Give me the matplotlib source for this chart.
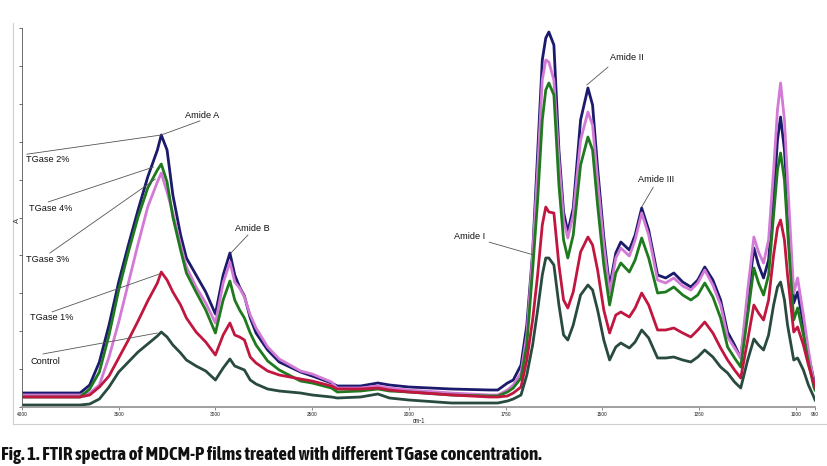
import numpy as np
import matplotlib
matplotlib.use("Agg")
import matplotlib.pyplot as plt
from matplotlib import font_manager
from matplotlib.lines import Line2D

# wavenumber grid (cm-1) and absorbance (x1000)
wn = [4000, 3700, 3650, 3600, 3550, 3500, 3450, 3400, 3350, 3300,
      3280, 3250, 3220, 3180, 3150, 3100, 3050, 3000, 2960, 2925,
      2900, 2875, 2850, 2820, 2790, 2730, 2670, 2560, 2500, 2400,
      2370, 2250, 2160, 2100, 2000, 1890, 1790, 1770, 1745, 1730,
      1710, 1695, 1680, 1667, 1655, 1646, 1638, 1625, 1612, 1600,
      1589, 1575, 1556, 1537, 1525, 1512, 1496, 1481, 1465, 1452,
      1430, 1415, 1398, 1380, 1357, 1336, 1315, 1292, 1271, 1253,
      1235, 1214, 1194, 1176, 1158, 1142, 1124, 1108, 1096, 1083,
      1070, 1057, 1047, 1039, 1029, 1021, 1005, 995, 980, 967,
      953, 950]

tg2 = [14, 14, 22, 45, 82, 125, 162, 197, 230, 257,
       272, 257, 212, 172, 149, 132, 115, 93, 132, 154,
       132, 120, 111, 89, 74, 57, 45, 35, 31, 24,
       21, 21, 24, 22, 20, 18, 17, 17, 24, 27,
       42, 82, 154, 254, 347, 369, 375, 362, 257, 195,
       175, 199, 287, 319, 302, 239, 170, 120, 154, 165,
       157, 172, 199, 177, 132, 129, 134, 125, 120, 127,
       140, 127, 107, 75, 62, 49, 107, 159, 142, 129,
       147, 207, 267, 290, 257, 207, 104, 115, 82, 52,
       27, 22]

tg3 = [12, 12, 14, 22, 50, 85, 124, 163, 200, 225,
       234, 215, 194, 162, 140, 120, 104, 84, 124, 145,
       125, 119, 110, 92, 79, 60, 48, 36, 33, 25,
       19, 19, 21, 19, 17, 14, 12, 12, 17, 22,
       34, 72, 152, 237, 327, 347, 345, 327, 247, 187,
       169, 192, 267, 295, 282, 227, 162, 114, 149, 159,
       151, 167, 194, 172, 127, 124, 129, 121, 117, 124,
       137, 122, 102, 70, 59, 49, 117, 170, 155, 144,
       167, 237, 297, 324, 287, 227, 114, 129, 92, 57,
       24, 19]

tg4 = [10, 10, 18, 35, 72, 117, 155, 190, 219, 237,
       243, 225, 190, 157, 134, 115, 97, 74, 107, 126,
       107, 97, 89, 74, 62, 46, 37, 26, 24, 19,
       15, 16, 18, 16, 15, 12, 11, 11, 15, 19,
       29, 62, 137, 207, 287, 317, 324, 312, 222, 167,
       149, 172, 242, 270, 257, 202, 142, 102, 134, 144,
       135, 147, 169, 149, 114, 115, 120, 112, 107, 112,
       124, 110, 89, 60, 49, 40, 92, 139, 124, 112,
       132, 192, 237, 254, 227, 177, 87, 99, 72, 45,
       20, 17]

tg1 = [10, 10, 12, 20, 31, 49, 67, 86, 106, 124,
       135, 127, 115, 102, 89, 75, 65, 52, 72, 84,
       72, 70, 67, 50, 44, 36, 32, 28, 26, 21,
       18, 18, 19, 17, 15, 12, 10, 10, 11, 14,
       20, 47, 87, 132, 182, 200, 195, 194, 142, 107,
       99, 115, 155, 170, 162, 137, 97, 74, 92, 95,
       90, 99, 114, 102, 77, 77, 79, 74, 70, 77,
       85, 74, 59, 47, 37, 29, 67, 102, 94, 87,
       107, 152, 179, 187, 167, 132, 75, 80, 62, 42,
       24, 20]

control = [2, 2, 3, 8, 20, 35, 45, 55, 63, 71,
           75, 70, 62, 54, 47, 41, 36, 27, 39, 48,
           41, 39, 37, 27, 23, 18, 16, 14, 12, 10,
           9, 10, 13, 9, 7, 4, 4, 4, 6, 8,
           12, 32, 62, 97, 132, 149, 149, 142, 102, 72,
           67, 82, 112, 122, 117, 97, 67, 47, 60, 64,
           59, 65, 77, 69, 49, 49, 50, 47, 45, 50,
           57, 50, 40, 34, 25, 19, 47, 68, 62, 57,
           72, 102, 120, 125, 107, 82, 47, 49, 37, 22,
           10, 7]

xticks = [4000, 3500, 3000, 2500, 2000, 1750, 1500, 1250, 1000, 950]

# fonts: look for a narrow / condensed family (upright) for caption and ticks
sans = ["Liberation Sans", "DejaVu Sans"]


def wt(f):
    w = f.weight
    return w if isinstance(w, int) else font_manager.weight_dict.get(w, 400)


cond = [f for f in font_manager.fontManager.ttflist
        if ("Narrow" in f.name or "Condensed" in f.name or f.stretch == "condensed")
        and f.style == "normal" and "Light" not in f.name and "Thin" not in f.name]
bold_cond = sorted({f.name for f in cond if wt(f) >= 600})
reg_cond = sorted({f.name for f in cond if wt(f) < 600})
narrow_bold = bold_cond[:1] + sans
narrow = (reg_cond[:1] or bold_cond[:1]) + sans


# FTIR style axis: half scale above 2000 cm-1
def fwd(x):
    x = np.asarray(x, float)
    return np.where(x >= 2000, x / 2 + 1000, x)


def inv(y):
    y = np.asarray(y, float)
    return np.where(y >= 2000, (y - 1000) * 2, y)


fig = plt.figure(figsize=(8.27, 4.66), dpi=100)
ax = fig.add_axes([22 / 827, 59 / 466, 793 / 827, 379 / 466])
ax.set_xscale("function", functions=(fwd, inv))

x = np.array(wn)
series = [
    (tg2, "#1b1a6c"),
    (tg3, "#d27ad6"),
    (tg4, "#1f7a1f"),
    (tg1, "#c0163f"),
    (control, "#284a3f"),
]
for vals, col in series:
    ax.plot(x, np.array(vals) / 1000, color=col, lw=2.0, solid_joinstyle="round")

ax.set_xlim(4000, 950)
ax.set_ylim(0, 0.379)
ax.set_xticks(xticks)
ax.set_xticklabels([str(t) for t in xticks], fontsize=4.2, family=narrow,
                   fontweight="normal", fontstyle="normal", color="#333333")
ax.minorticks_off()
ax.set_yticks(np.linspace(0, 0.379, 11))
ax.set_yticklabels([])
ax.tick_params(axis="x", length=2, width=0.6, pad=1.5, color="#777777")
ax.tick_params(axis="y", length=2.5, width=0.6, color="#555555")
for s in ["top", "right"]:
    ax.spines[s].set_visible(False)
ax.spines["left"].set_color("#555555")
ax.spines["left"].set_linewidth(0.6)
ax.spines["bottom"].set_color("#999999")
ax.spines["bottom"].set_linewidth(1.3)
ax.patch.set_alpha(0)

ax.set_xlabel("cm-1", fontsize=4.8, family=narrow, labelpad=0.5, color="#333333")
fig.text(17 / 827, 1 - 220 / 466, "A", rotation=90, fontsize=5.5, family=sans,
         ha="center", va="center", color="#333333")

# annotations: (text, text pos in axes fraction, line start, target point)
notes = [
    ("TGase 2%", (0.033, 0.652), (0.006, 0.667), (3280, 0.272)),
    ("Amide A", (0.227, 0.770), (0.2245, 0.755), (3280, 0.272)),
    ("TGase 4%", (0.036, 0.525), (0.033, 0.541), (3320, 0.240)),
    ("TGase 3%", (0.033, 0.388), (0.035, 0.406), (3310, 0.228)),
    ("TGase 1%", (0.037, 0.235), (0.038, 0.251), (3290, 0.133)),
    ("Control", (0.029, 0.121), (0.0265, 0.140), (3300, 0.074)),
    ("Amide B", (0.291, 0.470), (0.285, 0.454), (2920, 0.154)),
    ("Amide I", (0.565, 0.451), (0.589, 0.435), (1677, 0.152)),
    ("Amide II", (0.763, 0.921), (0.739, 0.897), (1540, 0.322)),
    ("Amide III", (0.800, 0.599), (0.796, 0.580), (1398, 0.200)),
]
for label, tpos, lstart, target in notes:
    ax.text(tpos[0], tpos[1], label, transform=ax.transAxes, fontsize=6.6,
            family=sans, ha="center", va="center", color="#111111")
    ax.annotate("", xy=target, xycoords="data", xytext=lstart,
                textcoords="axes fraction",
                arrowprops=dict(arrowstyle="-", color="#555555", lw=0.6,
                                shrinkA=0, shrinkB=0))

# light outer frame
fig.add_artist(Line2D([13 / 827, 13 / 827], [1 - 424 / 466, 1 - 23 / 466],
                      transform=fig.transFigure, color="#cfcfcf", lw=0.8))
fig.add_artist(Line2D([13 / 827, 1.0], [1 - 424 / 466, 1 - 424 / 466],
                      transform=fig.transFigure, color="#cfcfcf", lw=0.8))

caption = "Fig. 1. FTIR spectra of MDCM-P films treated with different TGase concentration."
cap = fig.text(1 / 827, 1 - 455 / 466, caption, fontsize=10, fontweight="bold",
               fontstyle="normal", family=narrow_bold, ha="left", va="center",
               color="#111111")
fig.canvas.draw()
w = cap.get_window_extent().width
cap.set_fontsize(10 * 535 / w)

fig.savefig("out.png", dpi=100)
